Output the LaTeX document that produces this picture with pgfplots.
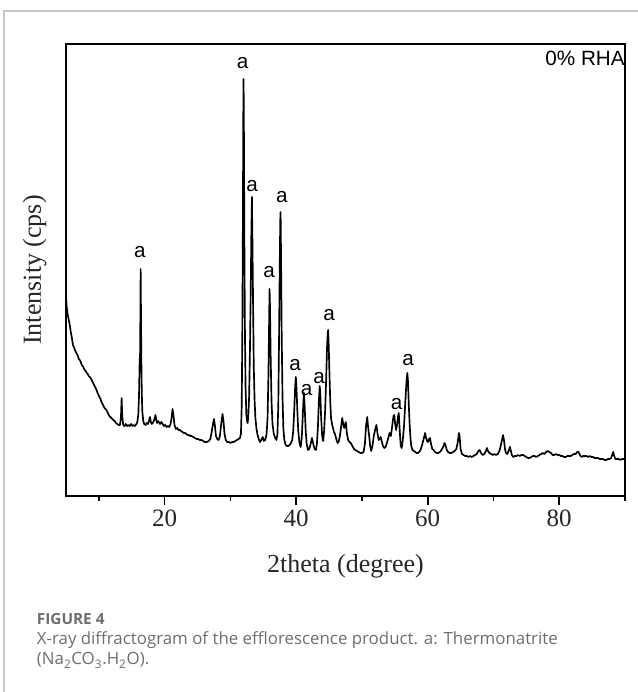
\documentclass[border=0pt]{standalone}
\usepackage{fontspec}
\setmainfont{Liberation Serif}
\newfontfamily\labelsans{Liberation Sans}
\newfontfamily\capfont{Open Sans}
\usepackage{pgfplots}
\pgfplotsset{compat=1.18}
\definecolor{framegray}{HTML}{C8C8C8}
\definecolor{captiongray}{HTML}{6E6E6E}

% XRD pattern, 2theta (degree) vs. intensity (arbitrary counts scale)
\pgfplotstableread{
x y
5.00 199
5.10 190
5.20 184
5.30 180
5.45 175
5.60 170
5.75 163
5.90 158
6.05 151
6.20 149
6.35 146
6.50 144
6.65 142
6.80 140
6.95 137
7.10 136
7.25 134
7.40 131
7.55 130
7.70 128
7.85 126
8.00 125
8.15 123
8.30 122
8.45 120
8.60 119
8.75 118
8.90 116
9.05 114
9.20 112
9.35 110
9.50 108
9.65 106
9.80 103
9.95 101
10.10 99
10.25 97
10.40 94
10.55 92
10.70 90
10.85 88
11.00 87
11.15 86
11.30 84
11.45 82
11.60 80
11.75 79
11.90 78
12.05 77
12.20 76
12.40 75
12.60 73
12.80 72
13.00 71
13.20 71
13.35 78
13.46 98
13.55 80
13.70 71
13.90 70
14.10 72
14.30 70
14.50 71
14.70 70
14.90 72
15.10 70
15.30 71
15.50 70
15.70 72
15.85 74
16.00 82
16.10 100
16.20 135
16.27 143
16.32 190
16.35 227
16.40 185
16.45 140
16.52 105
16.60 85
16.75 75
16.90 72
17.10 71
17.30 73
17.50 72
17.65 76
17.77 79
17.90 74
18.05 72
18.20 73
18.35 75
18.50 78
18.60 81
18.72 76
18.85 73
19.00 75
19.15 74
19.30 72
19.50 74
19.70 72
19.90 70
20.10 71
20.30 69
20.50 70
20.70 69
20.90 72
21.05 78
21.20 87
21.35 80
21.50 71
21.70 67
21.90 68
22.10 66
22.30 66
22.50 65
22.70 64
22.90 63
23.10 63
23.30 62
23.50 61
23.70 61
23.90 60
24.10 60
24.35 59
24.60 58
24.85 57
25.10 57
25.35 56
25.60 56
25.85 55
26.10 54
26.40 54
26.70 55
26.95 57
27.15 64
27.35 72
27.50 77
27.65 70
27.80 60
28.00 57
28.20 56
28.40 60
28.60 72
28.80 82
28.95 75
29.10 62
29.30 56
29.50 54
29.75 54
30.00 53
30.25 54
30.50 54
30.75 55
31.00 56
31.25 57
31.45 58
31.60 62
31.72 90
31.82 170
31.90 280
31.96 380
32.00 417
32.05 370
32.12 260
32.20 170
32.30 110
32.42 82
32.55 74
32.62 73
32.72 80
32.85 100
32.98 150
33.08 200
33.18 260
33.27 299
33.35 255
33.45 190
33.55 130
33.68 95
33.80 78
33.95 68
34.10 62
34.30 57
34.50 54
34.70 56
34.90 59
35.10 55
35.30 56
35.50 62
35.65 78
35.78 120
35.88 170
35.95 207
36.02 190
36.12 140
36.25 95
36.40 72
36.60 62
36.80 58
37.00 56
37.15 62
37.28 90
37.40 160
37.50 230
37.58 275
37.63 284
37.70 240
37.80 160
37.92 100
38.05 68
38.20 56
38.40 51
38.60 50
38.80 50
39.00 51
39.20 53
39.40 56
39.55 65
39.70 85
39.85 110
39.95 119
40.05 108
40.18 85
40.32 65
40.50 53
40.68 49
40.85 58
41.00 80
41.12 97
41.20 103
41.30 88
41.45 65
41.60 52
41.80 46
42.00 47
42.20 52
42.40 58
42.60 52
42.80 47
43.00 46
43.15 52
43.30 68
43.45 95
43.58 110
43.68 100
43.80 78
43.95 60
44.10 55
44.25 65
44.40 85
44.55 115
44.70 150
44.80 163
44.86 166
44.95 150
45.05 125
45.18 95
45.30 78
45.45 72
45.60 68
45.75 64
45.90 62
46.10 57
46.30 53
46.45 54
46.65 60
46.85 70
47.00 78
47.15 72
47.30 68
47.45 72
47.55 74
47.70 63
47.90 56
48.10 54
48.30 53
48.55 50
48.80 47
49.00 46
49.25 45
49.50 44
49.75 43
50.00 43
50.25 44
50.45 52
50.62 70
50.80 79
50.95 68
51.10 60
51.25 50
51.40 45
51.60 50
51.80 60
52.00 66
52.20 71
52.38 62
52.55 56
52.70 57
52.85 59
53.00 55
53.20 50
53.40 48
53.60 49
53.80 53
54.00 58
54.20 63
54.40 60
54.60 70
54.80 80
54.92 81
55.05 72
55.20 66
55.35 72
55.50 80
55.60 83
55.75 65
55.90 50
56.05 48
56.20 55
56.40 70
56.60 95
56.78 115
56.90 123
57.00 115
57.12 92
57.25 72
57.38 58
57.50 50
57.70 46
57.90 45
58.10 44
58.30 43
58.50 43
58.70 44
58.90 46
59.10 50
59.30 55
59.50 60
59.60 63
59.75 58
59.90 55
60.05 54
60.20 57
60.35 58
60.50 52
60.70 47
60.90 46
61.10 44
61.35 43
61.60 43
61.85 44
62.10 46
62.35 49
62.55 53
62.70 51
62.90 46
63.10 44
63.35 43
63.60 43
63.85 44
64.10 45
64.35 47
64.55 53
64.75 63
64.85 60
65.00 47
65.20 42
65.45 41
65.70 40
65.95 40
66.20 39
66.45 40
66.70 39
66.95 40
67.20 41
67.45 42
67.70 45
67.90 46
68.10 43
68.35 41
68.60 42
68.85 45
69.00 48
69.15 45
69.40 43
69.65 42
69.90 41
70.15 42
70.40 41
70.65 42
70.90 45
71.10 50
71.30 56
71.45 61
71.60 56
71.75 47
71.90 43
72.10 42
72.30 45
72.50 49
72.65 45
72.80 41
73.00 39
73.25 40
73.50 40
73.75 41
74.00 40
74.25 41
74.50 41
74.75 40
75.00 39
75.25 38
75.50 38
75.75 39
76.00 40
76.25 40
76.50 39
76.75 40
77.00 41
77.25 42
77.50 43
77.75 42
78.00 44
78.25 45
78.50 44
78.75 43
79.00 41
79.25 41
79.50 42
79.75 41
80.00 41
80.25 40
80.50 40
80.75 39
81.00 39
81.25 40
81.50 40
81.75 40
82.00 41
82.25 42
82.50 42
82.75 44
82.95 44
83.15 41
83.40 39
83.65 40
83.90 40
84.15 40
84.40 39
84.65 40
84.90 39
85.15 39
85.40 38
85.65 38
85.90 38
86.15 37
86.40 37
86.65 37
86.90 36
87.15 36
87.40 37
87.65 37
87.90 38
88.05 41
88.20 44
88.35 40
88.55 37
88.80 37
89.05 37
89.30 36
89.55 37
89.80 37
90.00 37
}\xrddata

\begin{document}
\begin{tikzpicture}[x=1pt,y=1pt]
\useasboundingbox (0,0) rectangle (478.5,519);
% card frame
\draw[line width=0.8pt, framegray] (3,0) -- (3,510.75) -- (478.5,510.75);

\begin{axis}[
  at={(49.5pt,147pt)}, anchor=south west,
  scale only axis, width=419.25pt, height=339pt,
  xmin=5, xmax=90, ymin=0, ymax=452,
  xtick={20,40,60,80},
  minor xtick={10,30,50,70,90},
  ytick=\empty,
  xtick pos=bottom,
  tick align=outside,
  major tick length=6.75pt,
  minor tick length=3.75pt,
  tick style={line width=1.2pt, black},
  axis line style={line width=1.4pt},
  /pgf/number format/assume math mode=true,
  xticklabel style={font=\fontsize{18.75}{20}\selectfont, text=black!85},
  xlabel={2theta (degree)},
  ylabel={Intensity (cps)},
  xlabel style={font=\fontsize{19.5}{22}\selectfont, text=black!85,
    at={(axis description cs:0.5,0)}, anchor=center, yshift=-52.5pt},
  ylabel style={font=\fontsize{19.5}{22}\selectfont, text=black!85,
    at={(axis description cs:0,0.5)}, anchor=center, yshift=23.5pt},
  clip=false,
]
\addplot[black, line width=1.25pt, line join=round] table[x=x, y=y] {\xrddata};

% thermonatrite reflections
\begin{scope}[every node/.style={font=\labelsans\fontsize{15.5}{16}\selectfont, inner sep=0pt}]
\node at (axis cs:16.25,244) {a};
\node at (axis cs:31.85,433) {a};
\node at (axis cs:33.31,310) {a};
\node at (axis cs:35.90,224) {a};
\node at (axis cs:37.83,299) {a};
\node at (axis cs:39.85,131) {a};
\node at (axis cs:41.57,106) {a};
\node at (axis cs:43.50,118) {a};
\node at (axis cs:45.00,181) {a};
\node at (axis cs:55.26,92) {a};
\node at (axis cs:57.02,136) {a};
\end{scope}
\node[anchor=north east, inner sep=0pt, font=\labelsans\fontsize{15.5}{16}\selectfont, yshift=-5pt]
  at (rel axis cs:1,1) {0\% RHA};
\end{axis}

% caption
\node[anchor=base west, inner sep=0pt, text=captiongray, font=\capfont\bfseries\fontsize{11.5}{12}\selectfont]
  at (27.5,50.8) {FIGURE 4};
\node[anchor=base west, inner sep=0pt, text=captiongray, font=\capfont\fontsize{12.65}{15}\selectfont]
  at (27.5,35.25) {X-ray diffractogram of the efflorescence product. a: Thermonatrite};
\node[anchor=base west, inner sep=0pt, text=captiongray, font=\capfont\fontsize{12.65}{15}\selectfont]
  at (27.5,20.25) {(Na\textsubscript{2}CO\textsubscript{3}.H\textsubscript{2}O).};
\end{tikzpicture}
\end{document}
